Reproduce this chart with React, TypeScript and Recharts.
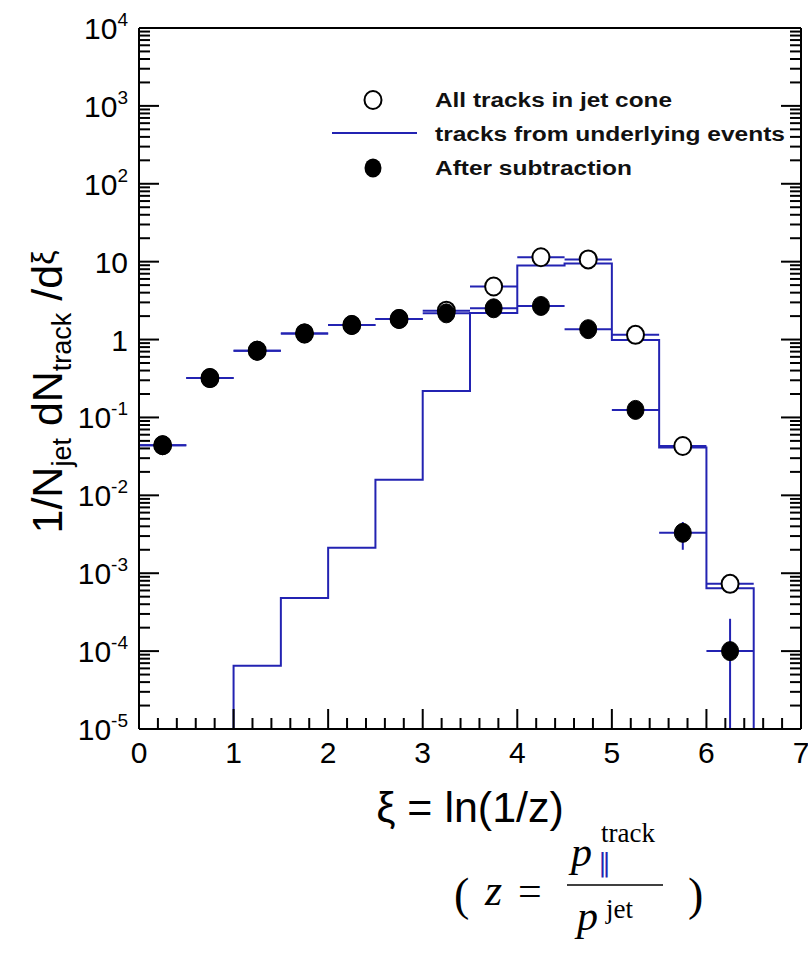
import React from "react";
import { ComposedChart, Line, Scatter, XAxis, YAxis, ErrorBar } from "recharts";

// bin centres of the xi histogram (bin width 0.5)
const binCenters = [0.25, 0.75, 1.25, 1.75, 2.25, 2.75, 3.25, 3.75, 4.25, 4.75, 5.25, 5.75, 6.25];
const binHalfWidths = [0.25, 0.25, 0.25, 0.25, 0.25, 0.25, 0.25, 0.25, 0.25, 0.25, 0.25, 0.25, 0.25];
// all tracks in jet cone (open circles)
const allTracks = [0.044, 0.32, 0.72, 1.2, 1.54, 1.84, 2.35, 4.8, 11.4, 10.7, 1.15, 0.043, 0.00073];
// after UE subtraction (filled circles)
const afterSub = [0.044, 0.32, 0.72, 1.2, 1.54, 1.84, 2.17, 2.52, 2.7, 1.36, 0.125, 0.0033, 0.0001];
const afterSubErrLow = [0, 0, 0, 0, 0, 0, 0, 0, 0, 0, 0, 0.0013, 0.00009];
const afterSubErrHigh = [0, 0, 0, 0, 0, 0, 0, 0, 0, 0, 0, 0.00125, 0.00016];
// underlying event histogram, bin edges and contents (empty bins sit on the axis floor)
const ueEdges = [0, 0.5, 1, 1.5, 2, 2.5, 3, 3.5, 4, 4.5, 5, 5.5, 6, 6.5, 7];
const ueValues = [1e-5, 1e-5, 6.5e-5, 4.8e-4, 2.13e-3, 0.0158, 0.219, 2.2, 8.9, 9.5, 0.99, 0.041, 6.4e-4, 1e-5];

const xTicks = [
  0, 0.2, 0.4, 0.6, 0.8, 1, 1.2, 1.4, 1.6, 1.8, 2, 2.2, 2.4, 2.6, 2.8, 3, 3.2, 3.4, 3.6, 3.8,
  4, 4.2, 4.4, 4.6, 4.8, 5, 5.2, 5.4, 5.6, 5.8, 6, 6.2, 6.4, 6.6, 6.8, 7,
];
const yDecades = [-5, -4, -3, -2, -1, 0, 1, 2, 3, 4];
const yMantissas = [1, 2, 3, 4, 5, 6, 7, 8, 9];

const BLUE = "#2323b2";
const FONT = "'Liberation Sans', Arial, Helvetica, sans-serif";
const SERIF = "'Liberation Serif', 'Times New Roman', serif";

const yTicks: number[] = [];
yDecades.forEach((k) => {
  if (k === 4) {
    yTicks.push(1e4);
    return;
  }
  yMantissas.forEach((m) => yTicks.push(Number((m * Math.pow(10, k)).toPrecision(3))));
});

const ueData = ueEdges.map((x, i) => ({ x, ue: ueValues[Math.min(i, ueValues.length - 1)] }));
const allData = binCenters.map((x, i) => ({ x, y: allTracks[i], xErr: binHalfWidths[i] }));
const subData = binCenters.map((x, i) => ({
  x,
  y: afterSub[i],
  xErr: binHalfWidths[i],
  yErr: [afterSubErrLow[i], afterSubErrHigh[i]],
}));

const decadeOf = (v: number) => {
  const lg = Math.log10(v);
  return Math.abs(lg - Math.round(lg)) < 1e-6 ? Math.round(lg) : null;
};

const LeftTick = (props: any) => {
  const { x, y, payload } = props;
  const k = decadeOf(payload.value);
  const len = k === null ? 11 : 20;
  return (
    <g>
      <line x1={x} x2={x + len} y1={y} y2={y} stroke="#000" strokeWidth={2} />
      {k !== null && (
        <text x={x - 11} y={y + 11} textAnchor="end" fontSize={30} fontFamily={FONT} fill="#000">
          {k === 0 ? "1" : "10"}
          {k !== 0 && k !== 1 && (
            <tspan dy={-13} fontSize={19}>
              {k}
            </tspan>
          )}
        </text>
      )}
    </g>
  );
};

const RightTick = (props: any) => {
  const { x, y, payload } = props;
  const len = decadeOf(payload.value) === null ? 11 : 20;
  return <line x1={x} x2={x - len} y1={y} y2={y} stroke="#000" strokeWidth={2} />;
};

const BottomTick = (props: any) => {
  const { x, y, payload } = props;
  const major = Math.abs(payload.value - Math.round(payload.value)) < 1e-6;
  return (
    <g>
      <line x1={x} x2={x} y1={y} y2={y - (major ? 20 : 11)} stroke="#000" strokeWidth={2} />
      {major && (
        <text x={x} y={y + 34} textAnchor="middle" fontSize={30} fontFamily={FONT} fill="#000">
          {Math.round(payload.value)}
        </text>
      )}
    </g>
  );
};

const TopTick = (props: any) => {
  const { x, y, payload } = props;
  const major = Math.abs(payload.value - Math.round(payload.value)) < 1e-6;
  return <line x1={x} x2={x} y1={y} y2={y + (major ? 20 : 11)} stroke="#000" strokeWidth={2} />;
};

const OpenCircle = (props: any) => (
  <ellipse cx={props.cx} cy={props.cy} rx={8.5} ry={9} fill="#fff" stroke="#000" strokeWidth={2} />
);
const FilledCircle = (props: any) => (
  <ellipse cx={props.cx} cy={props.cy} rx={8.5} ry={9.5} fill="#000" stroke="#000" strokeWidth={1} />
);

const App = () => {
  const axisLine = { stroke: "#000", strokeWidth: 2 };
  return (
    <div style={{ position: "relative", width: 808, height: 953, overflow: "hidden", background: "#fff" }}>
      <style>{"body{margin:0}"}</style>
      <ComposedChart width={808} height={953} margin={{ top: 27, right: 6, bottom: 164, left: 0 }}>
        <XAxis
          dataKey="x"
          type="number"
          domain={[0, 7]}
          ticks={xTicks}
          interval={0}
          allowDataOverflow
          tickSize={0}
          tickMargin={0}
          tickLine={false}
          axisLine={axisLine}
          tick={(p: any) => <BottomTick {...p} />}
          height={60}
        />
        <XAxis
          xAxisId="top"
          orientation="top"
          type="number"
          domain={[0, 7]}
          ticks={xTicks}
          interval={0}
          allowDataOverflow
          tickSize={0}
          tickMargin={0}
          tickLine={false}
          axisLine={axisLine}
          tick={(p: any) => <TopTick {...p} />}
          height={1}
        />
        <YAxis
          type="number"
          scale="log"
          domain={[1e-5, 1e4]}
          ticks={yTicks}
          interval={0}
          allowDataOverflow
          tickSize={0}
          tickMargin={0}
          tickLine={false}
          axisLine={axisLine}
          tick={(p: any) => <LeftTick {...p} />}
          width={139}
        />
        <YAxis
          yAxisId="right"
          orientation="right"
          type="number"
          scale="log"
          domain={[1e-5, 1e4]}
          ticks={yTicks}
          interval={0}
          allowDataOverflow
          tickSize={0}
          tickMargin={0}
          tickLine={false}
          axisLine={axisLine}
          tick={(p: any) => <RightTick {...p} />}
          width={1}
        />
        <Line
          data={ueData}
          dataKey="ue"
          type="stepAfter"
          stroke={BLUE}
          strokeWidth={2}
          dot={false}
          isAnimationActive={false}
        />
        <Scatter data={allData} dataKey="y" shape={OpenCircle} isAnimationActive={false}>
          <ErrorBar dataKey="xErr" direction="x" width={0} stroke={BLUE} strokeWidth={2} isAnimationActive={false} />
        </Scatter>
        <Scatter data={subData} dataKey="y" shape={FilledCircle} isAnimationActive={false}>
          <ErrorBar dataKey="xErr" direction="x" width={0} stroke={BLUE} strokeWidth={2} isAnimationActive={false} />
          <ErrorBar dataKey="yErr" direction="y" width={0} stroke={BLUE} strokeWidth={2} isAnimationActive={false} />
        </Scatter>
      </ComposedChart>

      <svg
        width={808}
        height={953}
        style={{ position: "absolute", left: 0, top: 0, pointerEvents: "none" }}
      >
        {/* legend */}
        <ellipse cx={373} cy={100} rx={8.5} ry={9} fill="#fff" stroke="#000" strokeWidth={2} />
        <line x1={332} x2={417} y1={133} y2={133} stroke={BLUE} strokeWidth={2} />
        <ellipse cx={373} cy={168} rx={8.5} ry={9.5} fill="#000" />
        <g fontFamily={FONT} fontWeight="bold" fontSize={20} fill="#111">
          <text x={435} y={107} textLength={237} lengthAdjust="spacingAndGlyphs">
            All tracks in jet cone
          </text>
          <text x={435} y={141} textLength={350} lengthAdjust="spacingAndGlyphs">
            tracks from underlying events
          </text>
          <text x={435} y={175} textLength={197} lengthAdjust="spacingAndGlyphs">
            After subtraction
          </text>
        </g>

        {/* y-axis title */}
        <g transform="translate(62, 392) rotate(-90)">
          <text x={0} y={0} textAnchor="middle" fontFamily={FONT} fontSize={43} fill="#000">
            1/N
            <tspan fontSize={27} dy={9}>jet</tspan>
            <tspan dy={-9}> dN</tspan>
            <tspan fontSize={27} dy={9}>track</tspan>
            <tspan dy={-9}> /d</tspan>
            <tspan fontSize={32} dy={-8}>ξ</tspan>
          </text>
        </g>

        {/* x-axis title */}
        <text x={470} y={822} textAnchor="middle" fontFamily={FONT} fontSize={43} fill="#000">
          ξ = ln(1/z)
        </text>

        {/* definition of z */}
        <g fontFamily={SERIF} fill="#000">
          <text x={454} y={910} fontSize={46}>(</text>
          <text x={485} y={905} fontSize={44} fontStyle="italic">z</text>
          <text x={518} y={905} fontSize={42}>=</text>
          <text x={571} y={866} fontSize={42} fontStyle="italic">p</text>
          <text x={601} y={842} fontSize={27}>track</text>
          <text x={598} y={872} fontSize={26} fill={BLUE}>∥</text>
          <line x1={567} x2={663} y1={885} y2={885} stroke="#000" strokeWidth={1.5} />
          <text x={577} y={930} fontSize={42} fontStyle="italic">p</text>
          <text x={606} y={918} fontSize={27}>jet</text>
          <text x={688} y={910} fontSize={46}>)</text>
        </g>
      </svg>
    </div>
  );
};

export default App;
